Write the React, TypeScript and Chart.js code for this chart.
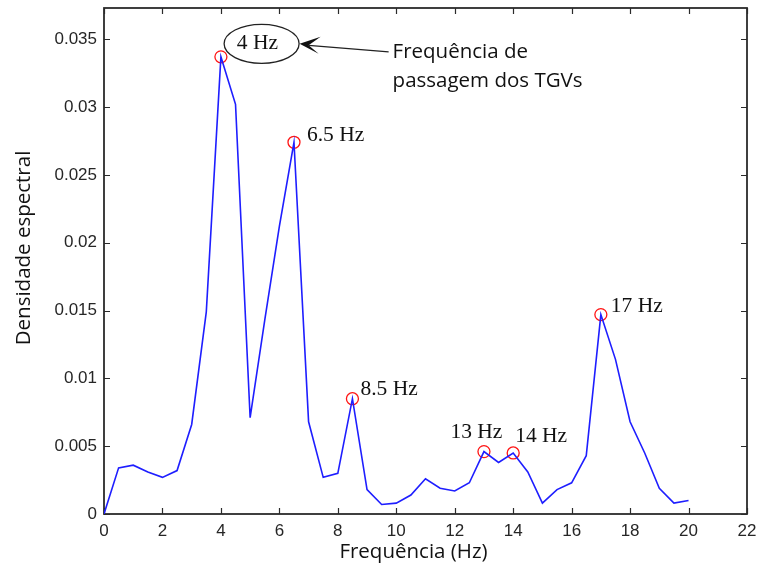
import React, { useEffect, useRef } from "react";
import { Chart, registerables } from "chart.js";

Chart.register(...registerables);

// ---- data ----
const freqs = [0, 0.5, 1, 1.5, 2, 2.5, 3, 3.5, 4, 4.5, 5, 5.5, 6, 6.5, 7, 7.5, 8, 8.5, 9, 9.5, 10, 10.5, 11, 11.5, 12, 12.5, 13, 13.5, 14, 14.5, 15, 15.5, 16, 16.5, 17, 17.5, 18, 18.5, 19, 19.5, 20];
const density = [0, 0.0034, 0.0036, 0.0031, 0.0027, 0.0032, 0.0066, 0.0149, 0.0337, 0.0302, 0.0071, 0.0143, 0.0212, 0.0274, 0.0068, 0.0027, 0.003, 0.0085, 0.0018, 0.0007, 0.0008, 0.0014, 0.0026, 0.0019, 0.0017, 0.0023, 0.0046, 0.0038, 0.0045, 0.0031, 0.0008, 0.0018, 0.0023, 0.0043, 0.0147, 0.0114, 0.0068, 0.0045, 0.0019, 0.0008, 0.001];
const peakFreqs = [4, 6.5, 8.5, 13, 14, 17];
const peakLabels = ["4 Hz", "6.5 Hz", "8.5 Hz", "13 Hz", "14 Hz", "17 Hz"];
const xTitle = "Frequência (Hz)";
const yTitle = "Densidade espectral";
const noteLines = ["Frequência de", "passagem dos TGVs"];
const xMin = 0, xMax = 22, xStep = 2;
const yMin = 0, yMax = 0.0373, yStep = 0.005;

// ---- styling / placement (pixel offsets relative to each peak) ----
const labelPlacement = [
  { dx: 36.5, dy: -13, align: "center" }, // 4 Hz, inside ellipse
  { dx: 13, dy: -7, align: "left" },
  { dx: 8, dy: -9, align: "left" },
  { dx: -7.6, dy: -19, align: "center" },
  { dx: 2, dy: -16.5, align: "left" },
  { dx: 10, dy: -8, align: "left" },
];
const ellipseShift = 4.2;

const SERIF = '"Liberation Serif", "Times New Roman", serif';
const SANS = '"Open Sans", "Noto Sans", sans-serif';
const TICKFONT = '"Liberation Sans", Arial, sans-serif';

const peakValue = (f: number) => density[freqs.indexOf(f)];

const decorPlugin = {
  id: "decor",
  beforeDatasetsDraw(chart: any) {
    const ctx = chart.ctx;
    const { left, right, top, bottom } = chart.chartArea;
    const xs = chart.scales.x;
    const ys = chart.scales.y;
    ctx.save();
    ctx.strokeStyle = "#2b2b2b";
    ctx.lineWidth = 1.2;
    const tl = 6;
    ctx.beginPath();
    xs.ticks.forEach((t: any) => {
      const px = Math.round(xs.getPixelForValue(t.value)) + 0.5;
      ctx.moveTo(px, bottom);
      ctx.lineTo(px, bottom - tl);
      ctx.moveTo(px, top);
      ctx.lineTo(px, top + tl);
    });
    ys.ticks.forEach((t: any) => {
      const py = Math.round(ys.getPixelForValue(t.value)) + 0.5;
      ctx.moveTo(left, py);
      ctx.lineTo(left + tl, py);
      ctx.moveTo(right, py);
      ctx.lineTo(right - tl, py);
    });
    ctx.stroke();
    ctx.lineWidth = 1.8;
    ctx.strokeRect(left, top, right - left, bottom - top);
    ctx.restore();
  },
  afterDraw(chart: any) {
    const ctx = chart.ctx;
    const { left, right, top, bottom } = chart.chartArea;
    const xs = chart.scales.x;
    const ys = chart.scales.y;
    ctx.save();
    // peak labels
    ctx.fillStyle = "#111";
    ctx.font = `21.5px ${SERIF}`;
    ctx.textBaseline = "middle";
    let ell = { x: 0, y: 0 };
    peakFreqs.forEach((f, i) => {
      const px = xs.getPixelForValue(f);
      const py = ys.getPixelForValue(peakValue(f));
      const p = labelPlacement[i];
      const lx = px + p.dx;
      const ly = py + p.dy;
      ctx.textAlign = p.align;
      ctx.fillText(peakLabels[i], lx, ly);
      if (i === 0) ell = { x: lx + ellipseShift, y: ly };
    });
    // ellipse round the 4 Hz label
    const rx = 37.5, ry = 19.5;
    ctx.strokeStyle = "#222";
    ctx.lineWidth = 1.3;
    ctx.beginPath();
    ctx.ellipse(ell.x, ell.y, rx, ry, 0, 0, Math.PI * 2);
    ctx.stroke();
    // arrow
    const tipX = ell.x + rx + 0.5, tipY = ell.y;
    const endX = tipX + 89, endY = tipY + 8;
    ctx.fillStyle = "#111";
    ctx.beginPath();
    ctx.moveTo(tipX, tipY);
    ctx.lineTo(tipX + 21, tipY - 7);
    ctx.lineTo(tipX + 9, tipY + 1.5);
    ctx.lineTo(tipX + 19, tipY + 10);
    ctx.closePath();
    ctx.fill();
    ctx.lineWidth = 1.3;
    ctx.beginPath();
    ctx.moveTo(tipX + 9, tipY + 1.5);
    ctx.lineTo(endX, endY);
    ctx.stroke();
    // note text
    ctx.font = `20.5px ${SANS}`;
    ctx.textAlign = "left";
    ctx.fillStyle = "#111";
    ctx.fillText(noteLines[0], endX + 4, endY);
    ctx.fillText(noteLines[1], endX + 4, endY + 29);
    // axis titles
    ctx.textAlign = "center";
    ctx.fillText(xTitle, (left + right) / 2 - 12, bottom + 38);
    ctx.translate(24, (top + bottom) / 2 - 13);
    ctx.rotate(-Math.PI / 2);
    ctx.fillText(yTitle, 0, 0);
    ctx.restore();
  },
};

export default function App() {
  const ref = useRef<HTMLCanvasElement | null>(null);
  useEffect(() => {
    if (!ref.current) return;
    const chart = new Chart(ref.current, {
      type: "line",
      data: {
        datasets: [
          {
            data: freqs.map((f, i) => ({ x: f, y: density[i] })),
            borderColor: "rgb(30,30,255)",
            borderWidth: 1.6,
            pointRadius: 0,
            tension: 0,
            fill: false,
          },
          {
            data: peakFreqs.map((f) => ({ x: f, y: peakValue(f) })),
            showLine: false,
            pointRadius: 6,
            pointBorderColor: "rgb(255,20,20)",
            pointBackgroundColor: "rgba(0,0,0,0)",
            pointBorderWidth: 1.3,
            pointStyle: "circle",
          },
        ],
      },
      options: {
        responsive: false,
        animation: false,
        layout: { padding: { top: 8, right: 12, left: 0, bottom: 0 } },
        plugins: { legend: { display: false }, tooltip: { enabled: false } },
        scales: {
          x: {
            type: "linear",
            min: xMin,
            max: xMax,
            grid: { display: false, drawTicks: false },
            border: { display: false },
            ticks: { stepSize: xStep, padding: 7, color: "#262626", font: { family: TICKFONT, size: 17 } },
            afterFit: (s: any) => {
              s.height = 52;
              s.paddingLeft = 0;
              s.paddingRight = 0;
            },
          },
          y: {
            type: "linear",
            min: yMin,
            max: yMax,
            grid: { display: false, drawTicks: false },
            border: { display: false },
            ticks: {
              stepSize: yStep,
              includeBounds: false,
              padding: 7,
              color: "#262626",
              font: { family: TICKFONT, size: 17 },
              callback: (v: any) => String(Number(Number(v).toFixed(3))),
            },
            afterFit: (s: any) => {
              s.width = 104;
              s.paddingTop = 0;
              s.paddingBottom = 0;
            },
          },
        },
      },
      plugins: [decorPlugin],
    });
    return () => chart.destroy();
  }, []);
  return (
    <div style={{ position: "fixed", left: 0, top: 0, width: 759, height: 566, background: "#fff" }}>
      <canvas ref={ref} width={759} height={566} style={{ display: "block" }} />
    </div>
  );
}
